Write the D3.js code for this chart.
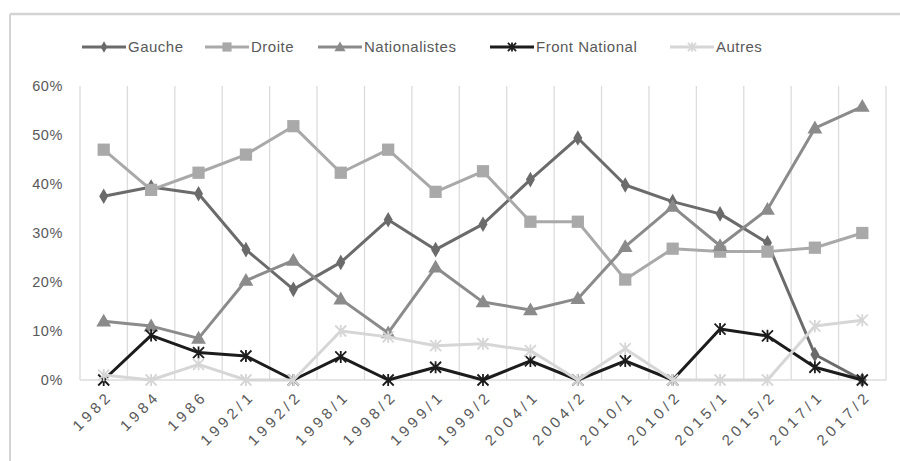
<!DOCTYPE html>
<html>
<head>
<meta charset="utf-8">
<script src="https://cdn.jsdelivr.net/npm/d3@7"></script>
<style>
  html, body { margin: 0; padding: 0; background: #fff; }
  svg { display: block; font-family: "Liberation Sans", Arial, sans-serif; }
</style>
</head>
<body>
<svg id="chart" width="900" height="461"></svg>
<script>
// Election rounds
const categories = ["1982", "1984", "1986", "1992/1", "1992/2", "1998/1", "1998/2", "1999/1", "1999/2",
  "2004/1", "2004/2", "2010/1", "2010/2", "2015/1", "2015/2", "2017/1", "2017/2"];

// Vote shares (%) per political family
const gauche        = [37.5, 39.4, 38, 26.6, 18.5, 24, 32.7, 26.6, 31.8, 40.9, 49.4, 39.8, 36.4, 33.9, 28, 5.2, 0];
const droite        = [47, 38.8, 42.3, 46, 51.8, 42.3, 47, 38.4, 42.6, 32.3, 32.3, 20.5, 26.8, 26.2, 26.2, 27, 30];
const nationalistes = [12, 11, 8.5, 20.3, 24.4, 16.5, 9.6, 23, 15.9, 14.3, 16.6, 27.2, 35.4, 27.4, 34.8, 51.4, 55.8];
const frontNational = [0, 9.1, 5.6, 4.9, 0, 4.7, 0, 2.6, 0, 3.9, 0, 3.9, 0, 10.4, 9, 2.6, 0];
const autres        = [1, 0, 3.2, 0, 0, 10, 8.8, 7, 7.4, 6, 0, 6.4, 0, 0, 0, 11, 12.2];

const seriesNames = ["Gauche", "Droite", "Nationalistes", "Front National", "Autres"];
const yTicks = [0, 10, 20, 30, 40, 50, 60];

const series = [
  { name: seriesNames[0], values: gauche,        color: "#6b6b6b", marker: "diamond" },
  { name: seriesNames[1], values: droite,        color: "#a9a9a9", marker: "square" },
  { name: seriesNames[2], values: nationalistes, color: "#8b8b8b", marker: "triangle" },
  { name: seriesNames[3], values: frontNational, color: "#1c1c1c", marker: "star" },
  { name: seriesNames[4], values: autres,        color: "#d6d6d6", marker: "star" }
];

const svg = d3.select("#chart");
const W = 900, H = 461;
const plot = { left: 80, right: 886, top: 86, bottom: 380 };

// Outer chart frame (top and left edges visible)
svg.append("line").attr("x1", 10).attr("x2", W).attr("y1", 14).attr("y2", 14)
  .attr("stroke", "#d4d4d4").attr("stroke-width", 2.5);
svg.append("line").attr("x1", 10).attr("x2", 10).attr("y1", 14).attr("y2", H)
  .attr("stroke", "#d4d4d4").attr("stroke-width", 2);

const x = d3.scaleBand().domain(categories).range([plot.left, plot.right]);
const y = d3.scaleLinear().domain([0, 60]).range([plot.bottom, plot.top]);
const cx = c => x(c) + x.bandwidth() / 2;

// Vertical gridlines at category boundaries
const bounds = categories.map(c => x(c)).concat([plot.right]);
svg.append("g").selectAll("line").data(bounds).join("line")
  .attr("x1", d => d).attr("x2", d => d)
  .attr("y1", plot.top).attr("y2", plot.bottom)
  .attr("stroke", "#dcdcdc").attr("stroke-width", 1.3);

// Baseline
svg.append("line").attr("x1", plot.left).attr("x2", plot.right)
  .attr("y1", y(0)).attr("y2", y(0)).attr("stroke", "#dcdcdc").attr("stroke-width", 1.3);

// Y axis labels
const yAxis = d3.axisLeft(y).tickValues(yTicks).tickFormat(d => d + "%").tickSize(0).tickPadding(0);
const gy = svg.append("g").attr("transform", `translate(${plot.left - 17},0)`).call(yAxis);
gy.select(".domain").remove();
gy.selectAll("text").attr("fill", "#595959").attr("font-size", 14.5).attr("letter-spacing", 0.6);

// X axis labels, rotated
const xAxis = d3.axisBottom(x).tickSize(0).tickPadding(0);
const gx = svg.append("g").attr("transform", `translate(0,${plot.bottom})`).call(xAxis);
gx.select(".domain").remove();
gx.selectAll("text")
  .attr("fill", "#595959").attr("font-size", 15)
  .attr("letter-spacing", 4)
  .attr("text-anchor", "end")
  .attr("dy", 0)
  .attr("transform", "translate(10,17) rotate(-45)");

// Marker drawing
function drawMarker(g, type, color, scale) {
  const s = scale || 1;
  if (type === "diamond") {
    g.append("path").attr("d", d3.symbol(d3.symbolDiamond, 70 * s * s)())
      .attr("fill", color);
  } else if (type === "square") {
    g.append("path").attr("d", d3.symbol(d3.symbolSquare, 150 * s * s)()).attr("fill", color);
  } else if (type === "triangle") {
    g.append("path").attr("d", d3.symbol(d3.symbolTriangle, 95 * s * s)())
      .attr("transform", "translate(0,1)").attr("fill", color);
  } else if (type === "star") {
    const r = 5.5 * s;
    const p = `M${-r},${-r}L${r},${r}M${-r},${r}L${r},${-r}M0,${-r * 1.1}L0,${r * 1.1}`;
    g.append("path").attr("d", p).attr("stroke", color).attr("stroke-width", 1.8).attr("fill", "none");
  }
}

// Lines and markers, drawn in legend order
const line = d3.line().x((d, i) => cx(categories[i])).y(d => y(d));
series.forEach(s => {
  const g = svg.append("g");
  g.append("path").datum(s.values).attr("d", line)
    .attr("fill", "none").attr("stroke", s.color).attr("stroke-width", 3)
    .attr("stroke-linejoin", "round").attr("stroke-linecap", "round");
  s.values.forEach((v, i) => {
    const m = g.append("g").attr("transform", `translate(${cx(categories[i])},${y(v)})`);
    drawMarker(m, s.marker, s.color);
  });
});

// Legend
const legendX = [82, 205, 318, 490, 670];
const legendY = 47;
series.forEach((s, i) => {
  const g = svg.append("g").attr("transform", `translate(${legendX[i]},${legendY})`);
  g.append("line").attr("x1", 0).attr("x2", 44).attr("y1", 0).attr("y2", 0)
    .attr("stroke", s.color).attr("stroke-width", 3);
  const m = g.append("g").attr("transform", "translate(22,0)");
  drawMarker(m, s.marker, s.color, 0.75);
  g.append("text").attr("x", 46).attr("y", 0).attr("dy", "0.35em")
    .attr("fill", "#595959").attr("font-size", 15).attr("letter-spacing", 0.5).text(s.name);
});
</script>
</body>
</html>
